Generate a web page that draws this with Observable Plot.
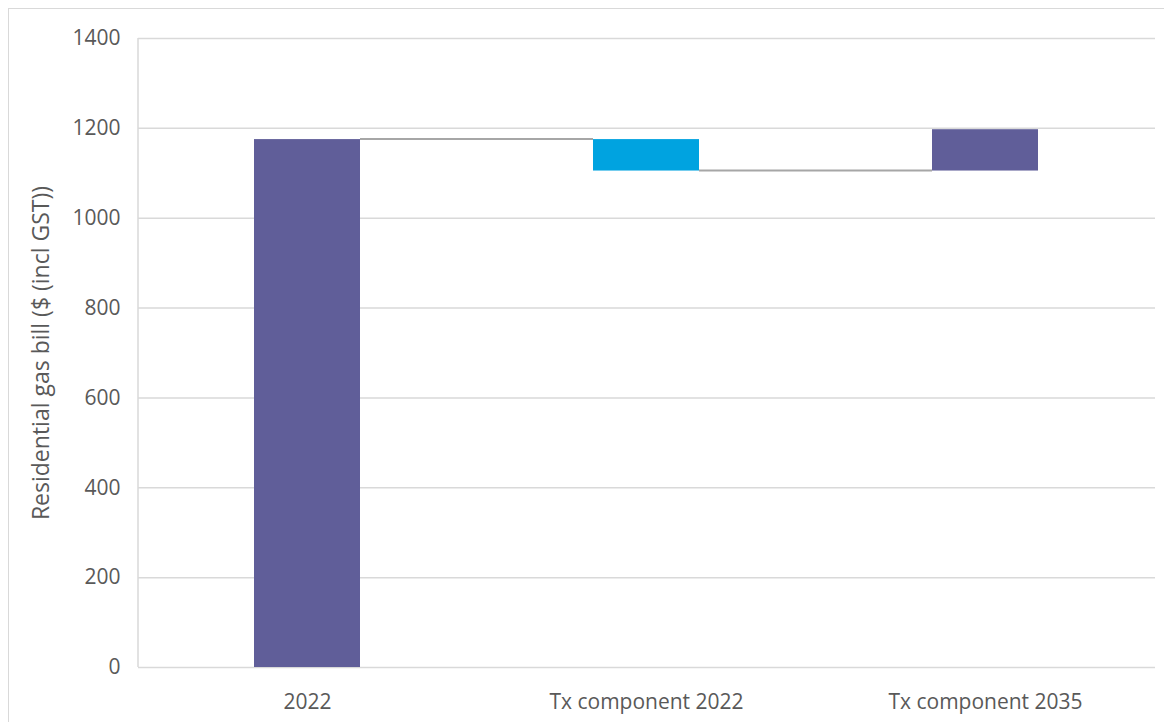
<!DOCTYPE html>
<html><head><meta charset="utf-8">
<script src="https://cdn.jsdelivr.net/npm/d3@7"></script>
<script src="https://cdn.jsdelivr.net/npm/@observablehq/plot@0.6"></script>
<style>
body{margin:0;background:#fff;}
#wrap{position:relative;width:1164px;height:722px;overflow:hidden;background:#fff;}
#border{position:absolute;left:8px;top:8px;width:1200px;height:800px;border:1px solid #d9d9d9;pointer-events:none;}
#chart{position:absolute;left:0;top:0;}
</style></head><body><div id="wrap"><div id="border"></div><div id="chart"></div></div>
<script>
const categories = ["2022", "Tx component 2022", "Tx component 2035"];
const starts = [0, 1175, 1105];
const ends = [1175, 1105, 1197];
const kinds = ["total", "decrease", "increase"];
const yTicks = [0, 200, 400, 600, 800, 1000, 1200, 1400];
const yLabel = "Residential gas bill ($ (incl GST))";

const bars = categories.map((c, i) => ({category: c, y1: starts[i], y2: ends[i], kind: kinds[i]}));
const connectors = ends.slice(0, -1).map((v, i) => ({from: categories[i], to: categories[i + 1], y: v}));

function connectorMark(index, scales, values, dimensions) {
  const x = scales.x, y = scales.y;
  const bw = typeof x.bandwidth === "function" ? x.bandwidth() : 0;
  const g = d3.create("svg:g");
  g.selectAll("line").data(connectors).join("line")
    .attr("x1", d => x(d.from) + bw)
    .attr("x2", d => x(d.to))
    .attr("y1", d => y(d.y))
    .attr("y2", d => y(d.y))
    .attr("stroke", "#a6a6a6")
    .attr("stroke-width", 2);
  return g.node();
}

function axisLineMark(index, scales, values, dimensions) {
  const {marginLeft, marginTop, marginBottom, height} = dimensions;
  const g = d3.create("svg:g");
  g.append("line")
    .attr("x1", marginLeft).attr("x2", marginLeft)
    .attr("y1", marginTop).attr("y2", height - marginBottom)
    .attr("stroke", "#d9d9d9").attr("stroke-width", 1.5);
  return g.node();
}

const chart = Plot.plot({
  width: 1164, height: 722,
  marginLeft: 138, marginRight: 9, marginTop: 38, marginBottom: 55,
  style: {fontFamily: "'Open Sans', sans-serif", fontSize: "21px", color: "#595959", background: "transparent"},
  x: {domain: categories, paddingInner: 0.687, paddingOuter: 0.3435, label: null},
  y: {domain: [0, 1400], label: null},
  color: {domain: ["total", "decrease", "increase"], range: ["#605e99", "#00a3e0", "#605e99"]},
  marks: [
    Plot.gridY(yTicks, {stroke: "#d9d9d9", strokeOpacity: 1, strokeWidth: 1.5}),
    axisLineMark,
    Plot.axisY(yTicks, {tickSize: 0, tickPadding: 18, label: null, tickFormat: d => String(d), fontSize: 21, fill: "#595959"}),
    Plot.axisX({tickSize: 0, tickPadding: 27, label: null, fontSize: 21, fill: "#595959"}),
    Plot.barY(bars, {x: "category", y1: "y1", y2: "y2", fill: "kind"}),
    connectorMark,
    Plot.text([yLabel], {text: d => d, frameAnchor: "left", textAnchor: "middle", rotate: -90, dx: -97, fontSize: 23, fill: "#595959"})
  ]
});
document.getElementById("chart").appendChild(chart);
</script>
</body></html>
